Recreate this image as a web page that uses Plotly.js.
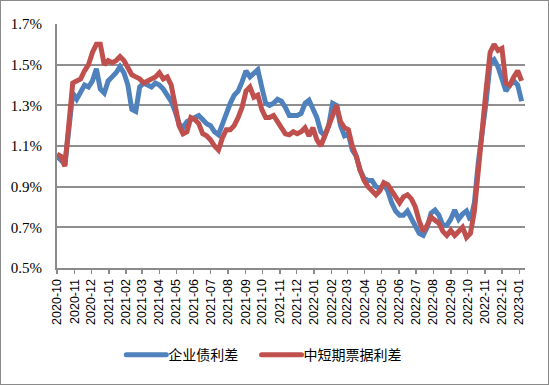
<!DOCTYPE html>
<html>
<head>
<meta charset="utf-8">
<script src="https://cdn.plot.ly/plotly-3.0.1.min.js"></script>
<style>
  html, body { margin: 0; padding: 0; background: #fff; }
  #wrap { position: relative; width: 549px; height: 385px; }
  #chart { width: 549px; height: 385px; }
  #frame { position: absolute; left: 0; top: 0; width: 547px; height: 383px; border: 1px solid #8a8a8a; pointer-events: none; }
</style>
</head>
<body>
<div id="wrap"><div id="chart"></div><div id="frame"></div></div>
<script>
// weekly observations starting 2020-10-01
var startDate = '2020-10-01';
var stepDays = 7;

var seriesNames = ['企业债利差', '中短期票据利差'];

var corpBond = [
  1.05, 1.03, 1.01, 1.18, 1.36, 1.33, 1.36, 1.40, 1.39, 1.42,
  1.48, 1.38, 1.36, 1.42, 1.44, 1.46, 1.49, 1.46, 1.40, 1.28,
  1.27, 1.39, 1.41, 1.40, 1.39, 1.41, 1.40, 1.38, 1.35, 1.32,
  1.27, 1.21, 1.19, 1.22, 1.23, 1.24, 1.25, 1.23, 1.21, 1.20,
  1.17, 1.155, 1.21, 1.26, 1.31, 1.35, 1.37, 1.415, 1.47, 1.44,
  1.46, 1.475, 1.39, 1.31, 1.30, 1.31, 1.33, 1.32, 1.29, 1.25,
  1.25, 1.25, 1.26, 1.31, 1.325, 1.275, 1.24, 1.17, 1.15, 1.20,
  1.31, 1.30, 1.20, 1.15, 1.16, 1.08, 1.05, 0.98, 0.94, 0.93,
  0.93, 0.90, 0.89, 0.91, 0.88, 0.82, 0.78, 0.76, 0.76, 0.78,
  0.74, 0.70, 0.67, 0.66, 0.70, 0.77, 0.785, 0.76, 0.71, 0.71,
  0.74, 0.785, 0.74, 0.765, 0.78, 0.735, 0.82, 1.02, 1.15, 1.32,
  1.51, 1.525, 1.49, 1.43, 1.37, 1.40, 1.42, 1.40, 1.32
];

var mtnBill = [
  1.06, 1.05, 1.00, 1.20, 1.41, 1.42, 1.43, 1.47, 1.50, 1.56,
  1.60, 1.60, 1.50, 1.52, 1.51, 1.52, 1.54, 1.52, 1.48, 1.45,
  1.44, 1.43, 1.41, 1.42, 1.43, 1.44, 1.46, 1.43, 1.44, 1.40,
  1.30, 1.20, 1.16, 1.17, 1.24, 1.23, 1.21, 1.16, 1.15, 1.13,
  1.10, 1.08, 1.14, 1.18, 1.18, 1.20, 1.24, 1.29, 1.37, 1.39,
  1.34, 1.35, 1.28, 1.24, 1.24, 1.25, 1.22, 1.19, 1.16, 1.155,
  1.17, 1.16, 1.17, 1.19, 1.15, 1.19, 1.13, 1.10, 1.145, 1.19,
  1.25, 1.30, 1.22, 1.19, 1.18, 1.10, 1.05, 0.98, 0.93, 0.90,
  0.88, 0.86, 0.88, 0.92, 0.91, 0.88, 0.85, 0.82, 0.85, 0.86,
  0.84, 0.80, 0.73, 0.68, 0.71, 0.75, 0.735, 0.72, 0.68, 0.66,
  0.685, 0.66, 0.68, 0.70, 0.65, 0.67, 0.78, 1.00, 1.17, 1.38,
  1.56, 1.60, 1.57, 1.58, 1.41, 1.40, 1.44, 1.47, 1.42
];

var yTickVals = [0.5, 0.7, 0.9, 1.1, 1.3, 1.5, 1.7];
var yTickText = ['0.5%', '0.7%', '0.9%', '1.1%', '1.3%', '1.5%', '1.7%'];

var colors = ['#4F81BD', '#C0504D'];
var legendIds = ['legend', 'legend2'];

var traces = [corpBond, mtnBill].map(function (vals, i) {
  return {
    type: 'scatter',
    mode: 'lines',
    name: seriesNames[i],
    legend: legendIds[i],
    x0: startDate,
    dx: stepDays * 86400000,
    y: vals,
    line: { color: colors[i], width: 5 }
  };
});

function legendAt(x) {
  return {
    orientation: 'h',
    x: x, xanchor: 'left',
    y: -0.357, yanchor: 'middle',
    font: { family: 'Noto Sans CJK SC', size: 14, color: '#000' },
    itemwidth: 40,
    bgcolor: 'rgba(0,0,0,0)'
  };
}

var layout = {
  width: 549,
  height: 385,
  margin: { l: 57, r: 24, t: 24, b: 117 },
  paper_bgcolor: '#ffffff',
  plot_bgcolor: '#ffffff',
  showlegend: true,
  legend: legendAt(0.131),
  legend2: legendAt(0.42),
  xaxis: {
    type: 'date',
    range: ['2020-10-01', '2023-01-11'],
    dtick: 'M1',
    tick0: '2020-10-01',
    tickformat: '%Y-%m',
    tickangle: -90,
    ticks: 'outside',
    ticklen: 4,
    tickwidth: 1.5,
    tickcolor: '#8a8a8a',
    showgrid: false,
    showline: true,
    linecolor: '#8a8a8a',
    linewidth: 2,
    zeroline: false,
    tickfont: { family: 'Liberation Sans', size: 12.5, color: '#000' }
  },
  yaxis: {
    range: [0.5, 1.7],
    tickvals: yTickVals,
    ticktext: yTickText,
    showgrid: true,
    gridcolor: '#8f8f8f',
    gridwidth: 2,
    showline: true,
    linecolor: '#8a8a8a',
    linewidth: 2,
    zeroline: false,
    ticks: '',
    ticklabelstandoff: 10,
    tickfont: { family: 'Liberation Serif', size: 15, color: '#000' }
  }
};

Plotly.newPlot('chart', traces, layout, { displayModeBar: false, staticPlot: true }).then(function (gd) {
  // lengthen the legend line samples to match the reference
  var paths = gd.querySelectorAll('.legendlines path');
  paths.forEach(function (p) { p.setAttribute('d', 'M8,0h40'); p.style.strokeLinecap = 'round'; });
});
</script>
</body>
</html>
